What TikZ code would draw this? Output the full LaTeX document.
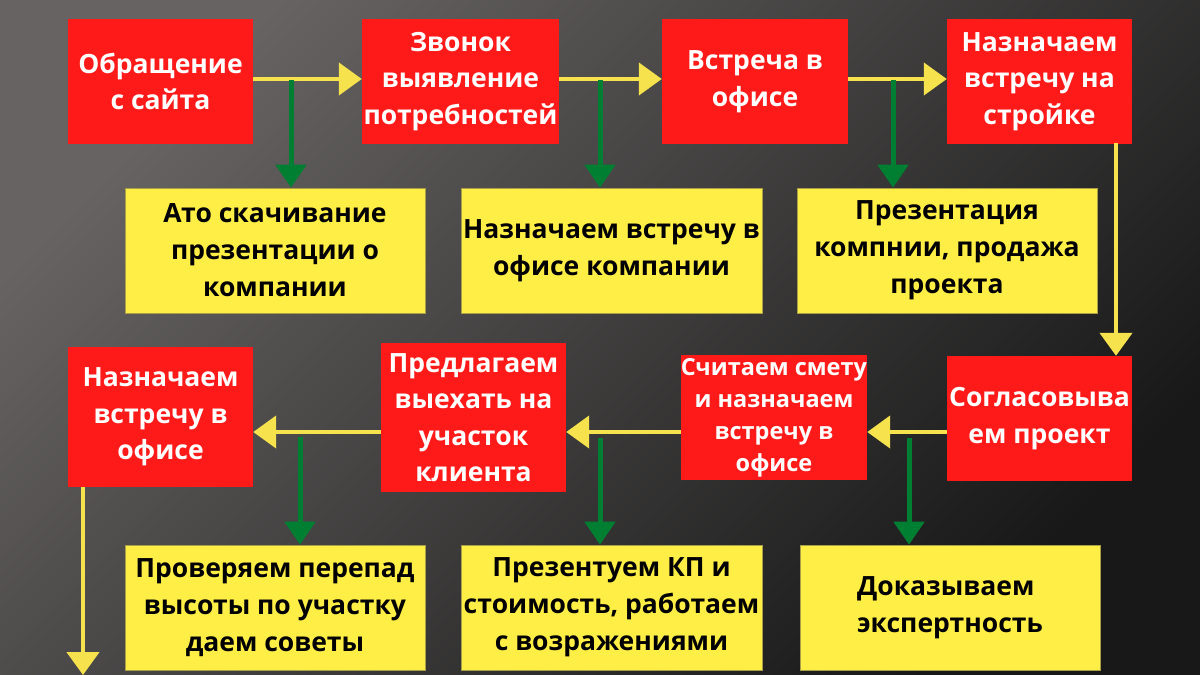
\documentclass[tikz,border=0pt]{standalone}
\usepackage{fontspec}
\setmainfont{Open Sans}
\usetikzlibrary{arrows.meta,calc}
\definecolor{bgA}{HTML}{666362}
\definecolor{bgB}{HTML}{181818}
\definecolor{boxred}{HTML}{FF1A1A}
\definecolor{boxyel}{HTML}{FFEE46}
\definecolor{arryel}{HTML}{F6E24C}
\definecolor{arrgrn}{HTML}{007E32}
\definecolor{yelrim}{HTML}{A89E48}
\tikzset{
  redbox/.style={rectangle, fill=boxred, inner sep=0pt, text=white,
    font=\fontsize{26.5}{36.5}\selectfont\bfseries, align=center, minimum height=125pt},
  yelbox/.style={rectangle, fill=boxyel, draw=yelrim, line width=0.6pt, inner sep=0pt, text=black,
    font=\fontsize{26.5}{37}\selectfont\bfseries, align=center, minimum width=300pt, minimum height=125pt},
  yarrow/.style={draw=arryel, line width=4.5pt, -{Triangle[length=23pt,width=32pt]}, arryel},
  garrow/.style={draw=arrgrn, line width=5pt, -{Triangle[length=23pt,width=30pt]}, arrgrn}
}
\begin{document}
\begin{tikzpicture}[x=1pt,y=-1pt]
\shade[top color=bgA, bottom color=bgB, shading angle=45] (0,0) rectangle (1200,675);
\useasboundingbox (0,0) rectangle (1200,675);

% row 1
\node[redbox, minimum width=185pt] (A) at (160.5,81.5) {Обращение\\с сайта};
\node[redbox, minimum width=197pt] (B) at (460.5,81.5) {Звонок\\выявление\\потребностей};
\node[redbox, minimum width=186pt] (C) at (755,81.5) {Встреча в\\офисе};
\node[redbox, minimum width=185pt] (D) at (1039.5,81.5) {Назначаем\\встречу на\\стройке};

\node[yelbox] (Y1) at (275,250.5) {Ато скачивание\\презентации о\\компании};
\node[yelbox, minimum width=301pt] (Y2) at (611.5,250.5) {Назначаем встречу в\\офисе компании};
\node[yelbox] (Y3) at (947,250.5) {Презентация\\компнии, продажа\\проекта};

% row 2
\node[redbox, minimum width=185pt] (E) at (1039.5,418.5) {Согласовыва\\ем проект};
\node[redbox, minimum width=186pt, font=\fontsize{23.5}{32}\selectfont\bfseries] (F) at (774,417.5) {Считаем смету\\и назначаем\\встречу в\\офисе};
\node[redbox, minimum width=185pt, minimum height=149pt] (G) at (473.5,417.5) {Предлагаем\\выехать на\\участок\\клиента};
\node[redbox, minimum width=185pt, minimum height=140pt] (H) at (160.5,417) {Назначаем\\встречу в\\офисе};

\node[yelbox] (Y4) at (275,607.5) {Проверяем перепад\\высоты по участку\\даем советы};
\node[yelbox, minimum width=301pt] (Y5) at (611.5,607.5) {Презентуем КП и\\стоимость, работаем\\с возражениями};
\node[yelbox, align=left] (Y6) at (950,607.5) {Доказываем\\экспертность};

% yellow flow arrows
\coordinate (r1) at (0,79);
\coordinate (r2) at (0,432);
\draw[yarrow] (A.east |- r1) -- (B.west |- r1);
\draw[yarrow] (B.east |- r1) -- (C.west |- r1);
\draw[yarrow] (C.east |- r1) -- (D.west |- r1);
\coordinate (dd) at (1116,143);
\draw[yarrow] (dd) -- (dd |- E.north);
\draw[yarrow] (E.west |- r2) -- (F.east |- r2);
\draw[yarrow] (F.west |- r2) -- (G.east |- r2);
\draw[yarrow] (G.west |- r2) -- (H.east |- r2);
\coordinate (hh) at (83,487);
\coordinate (hend) at (83,675);
\draw[yarrow] (hh) -- (hend);

% green arrows
\coordinate (g1) at (291,80);
\coordinate (g2) at (600,80);
\coordinate (g3) at (893,80);
\coordinate (g4) at (909,438);
\coordinate (g5) at (600,438);
\coordinate (g6) at (300,437);
\draw[garrow] (g1) -- (g1 |- Y1.north);
\draw[garrow] (g2) -- (g2 |- Y2.north);
\draw[garrow] (g3) -- (g3 |- Y3.north);
\draw[garrow] (g4) -- (g4 |- Y6.north);
\draw[garrow] (g5) -- (g5 |- Y5.north);
\draw[garrow] (g6) -- (g6 |- Y4.north);
\end{tikzpicture}
\end{document}
